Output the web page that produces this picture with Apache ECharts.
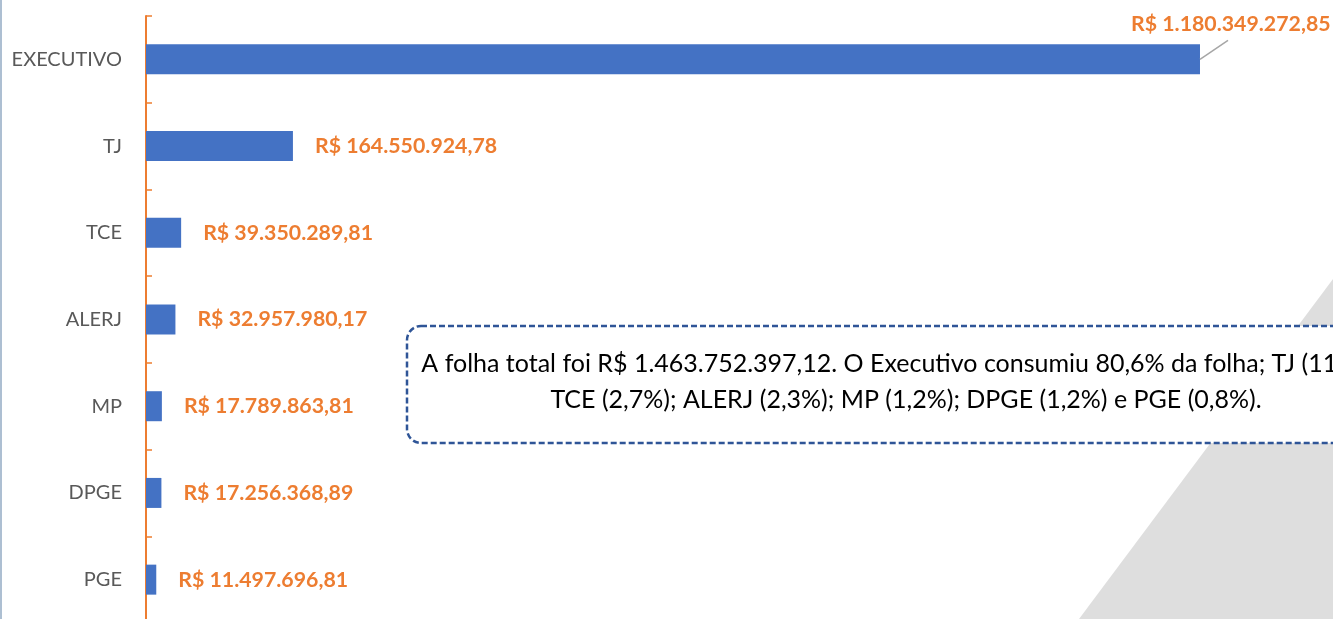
<!DOCTYPE html>
<html>
<head>
<meta charset="utf-8">
<script src="https://cdn.jsdelivr.net/npm/echarts@6/dist/echarts.min.js"></script>
<style>
  html, body { margin: 0; padding: 0; background: #fff; }
  #main { width: 1333px; height: 619px; }
</style>
</head>
<body>
<div id="main"></div>
<script>
// dados da folha por poder
var poderes = ['EXECUTIVO', 'TJ', 'TCE', 'ALERJ', 'MP', 'DPGE', 'PGE'];
var folha = [1180349272.85, 164550924.78, 39350289.81, 32957980.17, 17789863.81, 17256368.89, 11497696.81];
var nota = [
  'A folha total foi R$ 1.463.752.397,12. O Executivo consumiu 80,6% da folha; TJ (11,2%);',
  'TCE (2,7%); ALERJ (2,3%); MP (1,2%); DPGE (1,2%) e PGE (0,8%).'
];

function formatBRL(v) {
  var p = v.toFixed(2).split('.');
  var inteiro = p[0].replace(/\B(?=(\d{3})+(?!\d))/g, '.');
  return 'R$ ' + inteiro + ',' + p[1];
}

var chart = echarts.init(document.getElementById('main'));

var option = {
  animation: false,
  textStyle: { fontFamily: 'Lato' },
  grid: { left: 146, width: 1187, top: 16, height: 607, containLabel: false, outerBoundsMode: 'none' },
  xAxis: {
    type: 'value',
    show: false,
    min: 0,
    max: 1329300000
  },
  yAxis: {
    type: 'category',
    inverse: true,
    data: poderes,
    axisLine: { show: true, lineStyle: { color: '#ED7D31', width: 2 } },
    axisTick: { show: true, inside: true, length: 6, lineStyle: { color: '#ED7D31', width: 1.5 } },
    axisLabel: { color: '#595959', fontSize: 20, margin: 24, fontFamily: 'Lato' },
    splitLine: { show: false }
  },
  graphic: [
    // faixa cinza do fundo
    { id: 'faixa', type: 'polygon', z: -10, shape: { points: [[1333, 279], [1333, 619], [1079, 619]] }, style: { fill: '#DEDEDE' } },
    // borda esquerda
    { id: 'borda', type: 'rect', z: -10, shape: { x: 0, y: 0, width: 2, height: 619 }, style: { fill: '#ADBFD2' } },
    // caixa de texto
    {
      id: 'caixa', type: 'rect', z: 10,
      shape: { x: 407, y: 326, width: 1000, height: 117, r: 14 },
      style: { fill: '#fff', stroke: '#2F5597', lineWidth: 2.5, lineDash: [6, 3] }
    },
    {
      id: 'texto', type: 'text', z: 11, x: 906, y: 382,
      style: {
        text: nota.join('\n'), fill: '#000', fontSize: 25, fontFamily: 'Lato',
        align: 'center', verticalAlign: 'middle', lineHeight: 36
      }
    }
  ],
  series: [
    {
      type: 'bar',
      data: folha,
      barWidth: 30,
      itemStyle: { color: '#4472C4' },
      label: {
        show: true,
        position: 'right',
        distance: 22,
        color: '#ED7D31',
        fontWeight: 'bold',
        fontSize: 21.3,
        fontFamily: 'Lato',
        formatter: function (p) { return formatBRL(p.value); }
      },
      labelLayout: function (params) {
        if (params.dataIndex == 0) return { dx: -91, dy: -35 };
        return {};
      }
    }
  ]
};

chart.setOption(option);

// linha guia do rótulo do Executivo, a partir do fim da barra
var fim = chart.convertToPixel({ gridIndex: 0 }, [folha[0], poderes[0]]);
chart.setOption({
  graphic: [{
    id: 'guia', type: 'line', z: 5,
    shape: { x1: fim[0], y1: fim[1], x2: fim[0] + 28, y2: fim[1] - 19 },
    style: { stroke: '#A6A6A6', lineWidth: 1.5 }
  }]
});
</script>
</body>
</html>
